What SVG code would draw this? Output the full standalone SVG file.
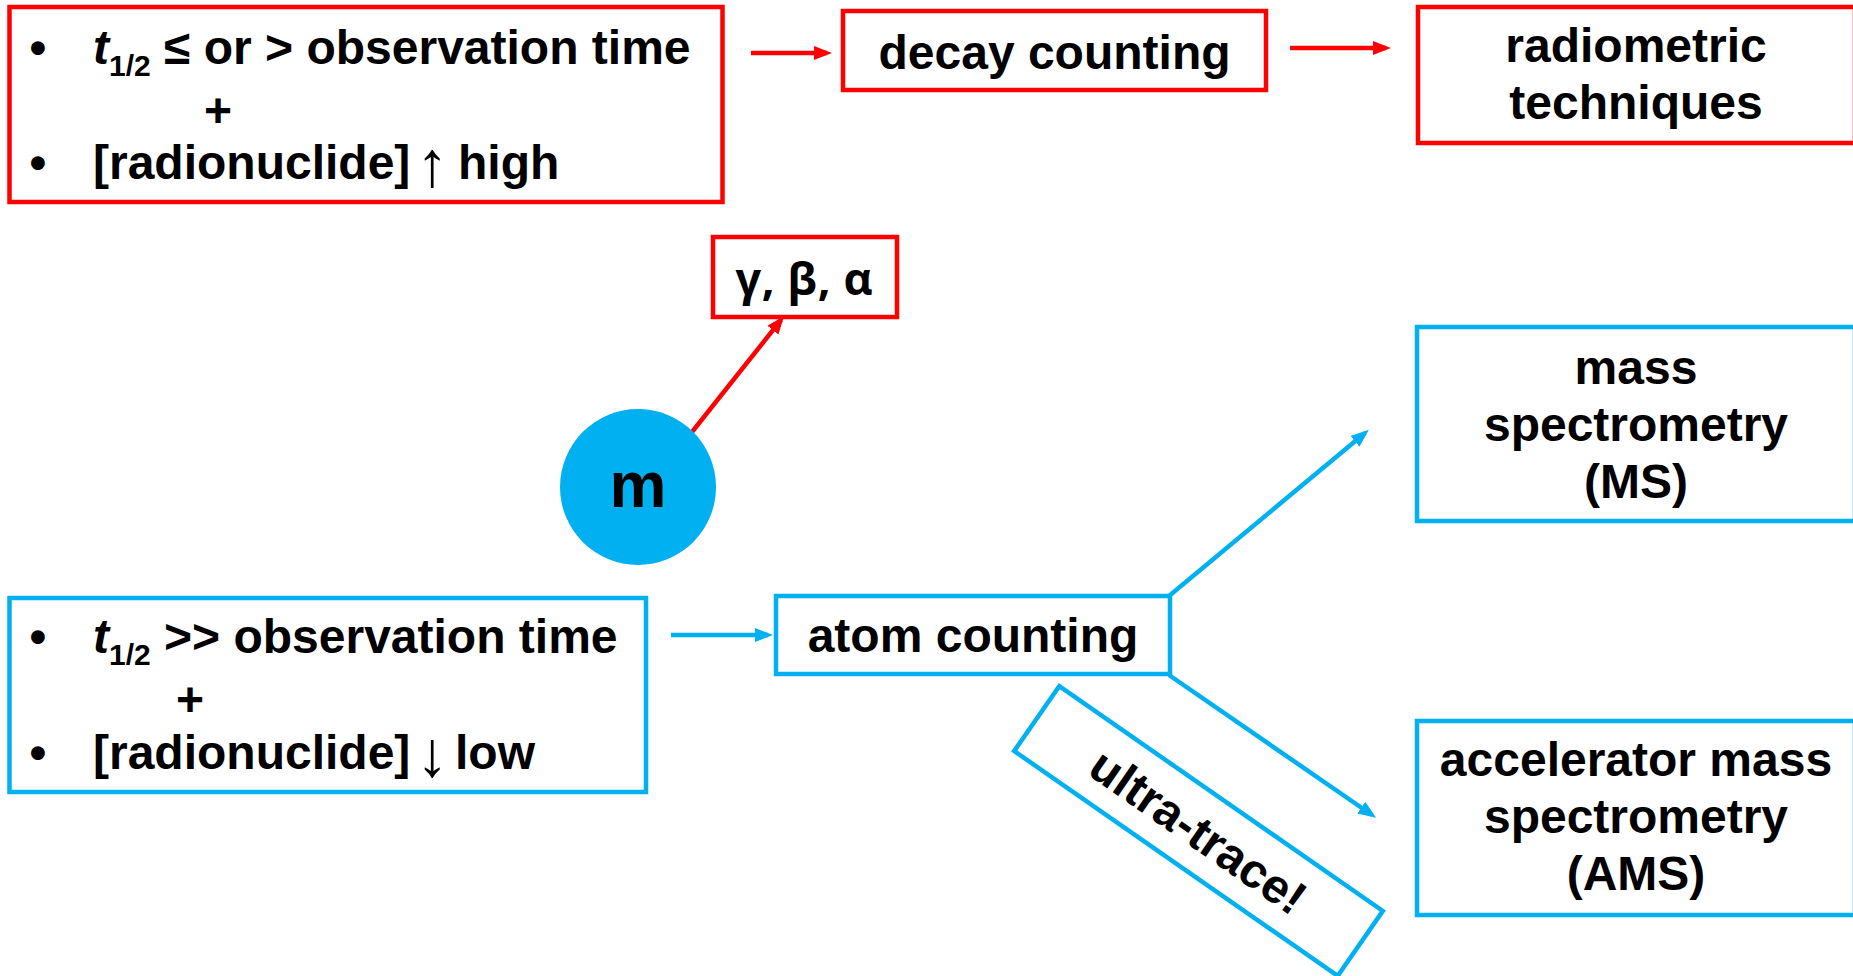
<svg xmlns="http://www.w3.org/2000/svg" width="1853" height="976" viewBox="0 0 1853 976">
<defs>
<style>
.t{font-family:"Liberation Sans",Arial,sans-serif;font-weight:bold;font-size:48px;fill:#000}
.c{text-anchor:middle}
.ar{font-family:"Liberation Sans",Arial,sans-serif;font-weight:normal;font-size:64px;fill:#000;text-anchor:middle}
.rb{fill:#fff;stroke:#FF0000;stroke-width:4.5}
.bb{fill:#fff;stroke:#00B0F0;stroke-width:4.5}
.rl{stroke:#FF0000;stroke-width:4.5;fill:none}
.bl{stroke:#00B0F0;stroke-width:4.5;fill:none}
.sub{font-size:30px;font-style:normal}
</style>
<marker id="ar" markerUnits="userSpaceOnUse" markerWidth="18" markerHeight="16" viewBox="0 0 18 16" refX="13" refY="8" orient="auto"><path d="M0,1 L18,8 L0,15 Z" fill="#FF0000"/></marker>
<marker id="ab" markerUnits="userSpaceOnUse" markerWidth="18" markerHeight="16" viewBox="0 0 18 16" refX="13" refY="8" orient="auto"><path d="M0,1 L18,8 L0,15 Z" fill="#00B0F0"/></marker>
</defs>
<rect width="1853" height="976" fill="#fff"/>

<g id="connectors">
<line class="rl" x1="751" y1="53" x2="827" y2="53" marker-end="url(#ar)"/>
<line class="rl" x1="1290" y1="48" x2="1386" y2="48" marker-end="url(#ar)"/>
<line class="rl" x1="692" y1="432" x2="781" y2="320" marker-end="url(#ar)"/>
<line class="bl" x1="671" y1="635" x2="768" y2="635" marker-end="url(#ab)"/>
<line class="bl" x1="1169" y1="596" x2="1365" y2="433" marker-end="url(#ab)"/>
<line class="bl" x1="1169" y1="675" x2="1372" y2="815" marker-end="url(#ab)"/>
</g>

<g id="cond-high">
<rect class="rb" x="9.5" y="7" width="713" height="195"/>
<text class="t c" x="38" y="64">•</text>
<text class="t" x="93" y="64"><tspan font-style="italic">t</tspan><tspan class="sub" dy="12">1/2</tspan><tspan dy="-12"> ≤ or &gt; observation time</tspan></text>
<text class="t c" x="218" y="127">+</text>
<text class="t c" x="38" y="179">•</text>
<text class="t" x="93" y="179">[radionuclide]</text>
<text class="ar" x="432" y="186">↑</text>
<text class="t" x="458" y="179">high</text>
</g>

<g id="decay-counting">
<rect class="rb" x="843" y="11" width="423" height="79"/>
<text class="t c" x="1054.5" y="69">decay counting</text>
</g>

<g id="radiometric">
<rect class="rb" x="1418" y="7" width="437" height="136"/>
<text class="t c" x="1636" y="62">radiometric</text>
<text class="t c" x="1636" y="119">techniques</text>
</g>

<g id="gba">
<rect class="rb" x="713" y="237" width="184" height="80"/>
<text x="804" y="295" font-family="'Open Sans','Noto Sans',sans-serif" font-weight="bold" font-size="45" text-anchor="middle" textLength="137" lengthAdjust="spacing">γ, β, α</text>
</g>

<g id="m">
<circle cx="638" cy="487" r="78" fill="#00B0F0"/>
<text class="t c" x="638" y="507" style="font-size:64px">m</text>
</g>

<g id="cond-low">
<rect class="bb" x="9.5" y="598" width="636.5" height="194"/>
<text class="t c" x="38" y="653">•</text>
<text class="t" x="93" y="653"><tspan font-style="italic">t</tspan><tspan class="sub" dy="12">1/2</tspan><tspan dy="-12"> &gt;&gt; observation time</tspan></text>
<text class="t c" x="190" y="716">+</text>
<text class="t c" x="38" y="769">•</text>
<text class="t" x="93" y="769">[radionuclide]</text>
<text class="ar" x="432" y="776">↓</text>
<text class="t" x="455" y="769">low</text>
</g>

<g id="atom-counting">
<rect class="bb" x="776" y="596" width="394" height="78"/>
<text class="t c" x="973" y="652">atom counting</text>
</g>

<g id="ms">
<rect class="bb" x="1417" y="327" width="438" height="194"/>
<text class="t c" x="1636" y="384">mass</text>
<text class="t c" x="1636" y="441">spectrometry</text>
<text class="t c" x="1636" y="498">(MS)</text>
</g>

<g id="ams">
<rect class="bb" x="1417" y="721" width="438" height="194"/>
<text class="t c" x="1636" y="776">accelerator mass</text>
<text class="t c" x="1636" y="833">spectrometry</text>
<text class="t c" x="1636" y="890">(AMS)</text>
</g>

<g id="ultra-trace" transform="translate(1198.5,831) rotate(34.8)">
<rect class="bb" x="-197" y="-39.5" width="394" height="79"/>
<text class="t c" x="0" y="17">ultra-trace!</text>
</g>
</svg>
